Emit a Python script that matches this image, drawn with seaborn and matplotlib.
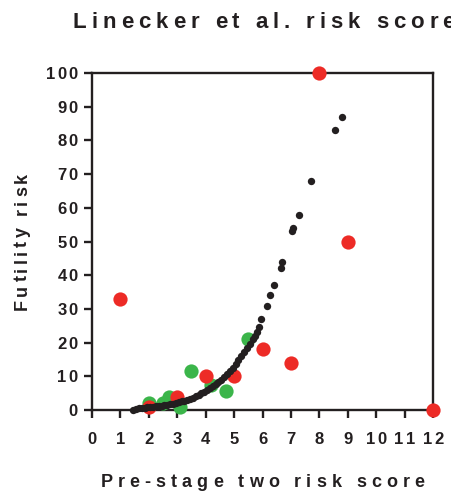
import numpy as np
import pandas as pd
import matplotlib
matplotlib.use("Agg")
import matplotlib.pyplot as plt
import seaborn as sns
from matplotlib.text import Text
from matplotlib.font_manager import findfont, get_font
from matplotlib.ft2font import LoadFlags

# Model curve: predicted futility risk against the pre-stage two score
curve_score = [1.45, 1.55, 1.65, 1.75, 1.85, 1.95, 2.05, 2.15, 2.25, 2.35,
               2.45, 2.55, 2.65, 2.75, 2.85, 2.95, 3.05, 3.15, 3.25, 3.35,
               3.45, 3.55, 3.65, 3.75, 3.85, 3.95, 4.05, 4.15, 4.25, 4.35,
               4.45, 4.55, 4.65, 4.75, 4.85, 4.95, 5.05, 5.15, 5.25, 5.35,
               5.45, 5.55, 5.65, 5.72, 5.80, 5.86, 5.94, 6.15, 6.26, 6.41,
               6.64, 6.68, 7.05, 7.09, 7.27, 7.70, 8.54, 8.79]
curve_risk = [0.0, 0.3, 0.5, 0.6, 0.7, 0.8, 0.9, 1.0, 1.1, 1.2,
              1.3, 1.4, 1.5, 1.7, 1.9, 2.1, 2.3, 2.6, 2.8, 3.1,
              3.4, 3.7, 4.1, 4.5, 5.0, 5.4, 5.9, 6.4, 7.0, 7.6,
              8.3, 9.0, 9.8, 10.7, 11.6, 12.6, 13.6, 14.7, 15.9, 17.1,
              18.4, 19.7, 21.0, 22.0, 23.0, 24.5, 27.0, 31.0, 34.0, 37.0,
              42.0, 44.0, 53.0, 54.0, 58.0, 68.0, 83.0, 87.0]

# Observed futility per score group
red_score = [1, 2, 3, 4, 5, 6, 7, 8, 9, 12]
red_risk = [33, 1, 4, 10, 10, 18, 14, 100, 50, 0]

green_score = [2.0, 2.5, 2.7, 3.1, 3.5, 4.2, 4.7, 5.5]
green_risk = [2, 2, 4, 1, 11.5, 7.5, 5.5, 21]

x_ticks = list(range(0, 13))
y_ticks = list(range(0, 101, 10))

RED = "#ED2B26"
GREEN = "#3BB54A"
BLACK = "#231F20"


class SpacedText(Text):
    """Text drawn glyph by glyph with extra letter spacing (tracking, in em)."""
    tracking = 0.0

    def draw(self, renderer):
        if renderer is not None:
            self._renderer = renderer
        if not self.get_visible() or self.get_text() == "":
            return
        s = self.get_text()
        prop = self.get_fontproperties()
        size = prop.get_size_in_points()
        dpi = self.figure.dpi
        font = get_font(findfont(prop))
        font.set_size(size, dpi)
        advances = []
        for c in s:
            g = font.load_char(ord(c), flags=LoadFlags.NO_HINTING)
            advances.append(g.linearHoriAdvance / 65536)
        em = size * dpi / 72.0
        extra = self.tracking * em
        new_w = sum(advances) + extra * (len(s) - 1)

        bbox, info, descent = self._get_layout(renderer)
        line, wh, ox, oy = info[0]
        w = wh[0]
        trans = self.get_transform()
        posx, posy = trans.transform(self.get_unitless_position())
        x0, y0 = posx + ox, posy + oy

        angle = np.deg2rad(self.get_rotation())
        ux, uy = np.cos(angle), np.sin(angle)
        ha = self.get_horizontalalignment()
        if ha == "center":
            shift = -(new_w - w) / 2
        elif ha == "right":
            shift = -(new_w - w)
        else:
            shift = 0.0
        x0 += shift * ux
        y0 += shift * uy

        canvasw, canvash = renderer.get_canvas_width_height()
        renderer.open_group("text", self.get_gid())
        gc = renderer.new_gc()
        gc.set_foreground(self.get_color())
        gc.set_alpha(self.get_alpha())
        gc.set_antialiased(self._antialiased)
        self._set_gc_clip(gc)
        pos = 0.0
        for c, adv in zip(s, advances):
            if not c.isspace():
                x = x0 + pos * ux
                y = y0 + pos * uy
                if renderer.flipy():
                    y = canvash - y
                renderer.draw_text(gc, x, y, c, prop, self.get_rotation(),
                                   ismath=False, mtext=None)
            pos += adv + extra
        gc.restore()
        renderer.close_group("text")
        self.stale = False


def space_out(artist, tracking):
    artist.__class__ = SpacedText
    artist.tracking = tracking


sns.set_style("ticks")
plt.rcParams["font.family"] = ["Liberation Sans", "DejaVu Sans"]
plt.rcParams["font.weight"] = "bold"

fig = plt.figure(figsize=(4.52, 4.92), dpi=100)
ax = fig.add_axes([92 / 452, 82 / 492, 341 / 452, 337 / 492])

sns.scatterplot(x=green_score, y=green_risk, color=GREEN, s=105,
                linewidth=0, ax=ax, clip_on=False, zorder=3)
sns.scatterplot(x=red_score, y=red_risk, color=RED, s=105,
                linewidth=0, ax=ax, clip_on=False, zorder=4)
sns.scatterplot(x=curve_score, y=curve_risk, color=BLACK, s=28,
                linewidth=0, ax=ax, clip_on=False, zorder=5)

ax.set_xlim(0, 12)
ax.set_ylim(0, 100)
ax.set_xticks(x_ticks)
ax.set_yticks(y_ticks)
ax.set_xticklabels([str(v) for v in x_ticks])
ax.set_yticklabels([str(v) for v in y_ticks])

for side in ["left", "bottom", "top", "right"]:
    ax.spines[side].set_visible(True)
    ax.spines[side].set_linewidth(1.7)
    ax.spines[side].set_color(BLACK)
    ax.spines[side].set_zorder(2)

ax.tick_params(axis="both", direction="out", length=6, width=1.7,
               color=BLACK, labelcolor=BLACK, labelsize=12)
ax.tick_params(axis="x", pad=10)
ax.tick_params(axis="y", pad=4)
ax.tick_params(top=False, right=False)

ax.set_xlabel("Pre-stage two risk score", fontsize=13, fontweight="bold",
              color=BLACK)
ax.set_ylabel("Futility risk", fontsize=13, fontweight="bold", color=BLACK)
ax.xaxis.set_label_coords(0.5, (5 - 82) / 337)
ax.xaxis.label.set_va("baseline")
ax.yaxis.set_label_coords((27 - 92) / 341, 0.5)
ax.yaxis.label.set_va("baseline")

title = fig.text(73 / 452, 1 - 28 / 492, "Linecker et al. risk score",
                 ha="left", va="baseline", fontsize=16, fontweight="bold",
                 color=BLACK)

space_out(title, 0.22)
space_out(ax.xaxis.label, 0.28)
space_out(ax.yaxis.label, 0.19)
for t in ax.xaxis.get_major_ticks() + ax.yaxis.get_major_ticks():
    space_out(t.label1, 0.14)

fig.savefig("out.png", dpi=100)
